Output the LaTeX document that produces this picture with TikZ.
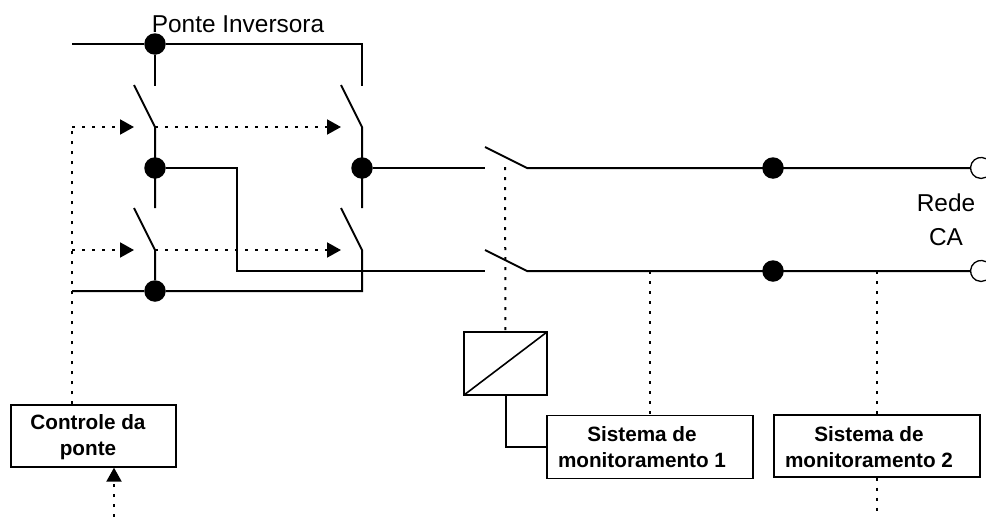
\documentclass[tikz,border=0pt]{standalone}
\usepackage{fontspec}
\setmainfont{Liberation Sans}
\usetikzlibrary{arrows.meta}
\tikzset{
  x=1pt,y=-1pt,
  wire/.style={line width=2pt,line join=miter},
  ctrl/.style={line width=2pt,dash pattern=on 3pt off 7pt},
  ctrlarrow/.style={ctrl,-{Triangle[length=14pt,width=15pt,sep=0pt]}},
  dot/.style={circle,fill=black,draw=none,minimum size=21.5pt,inner sep=0pt},
  box/.style={draw=black,line width=1.3pt,fill=white,inner sep=0pt,minimum height=0pt},
  boxtext/.style={font=\fontsize{20.7}{26.5}\selectfont\bfseries,align=center,inner sep=0pt},
  plain/.style={font=\fontsize{24.4}{34}\selectfont,align=center,inner sep=0pt},
}
\begin{document}
\begin{tikzpicture}
\useasboundingbox (0,0) rectangle (986,517);
% junction dots
\node[dot] (jt) at (155,44) {};
\node[dot] (jl) at (155,168) {};
\node[dot] (jr) at (362,168) {};
\node[dot] (jb) at (155,291) {};
\node[dot] (ja) at (773,168) {};
\node[dot] (jc) at (773,271) {};
% free ends and switch contacts
\coordinate (tl) at (72,44);
\coordinate (tr) at (362,44);
\coordinate (bl) at (72,291);
\coordinate (br) at (362,291);
\coordinate (a1) at (155,86);
\coordinate (a2) at (362,86);
\coordinate (a1b) at (134,85);
\coordinate (a2b) at (341,85);
\coordinate (a1p) at (155,127);
\coordinate (a2p) at (362,127);
\coordinate (b1) at (155,208);
\coordinate (b2) at (362,208);
\coordinate (b1b) at (134,208);
\coordinate (b2b) at (341,208);
\coordinate (b1p) at (155,250);
\coordinate (b2p) at (362,250);
\coordinate (s1i) at (485,168);
\coordinate (s2i) at (485,271);
\coordinate (s1b) at (485,147);
\coordinate (s2b) at (485,250);
\coordinate (s1o) at (527,168);
\coordinate (s2o) at (527,271);
\coordinate (e1) at (970.6,168);
\coordinate (e2) at (970.6,271);
\coordinate (c1) at (72,127);
\coordinate (c2) at (72,250);
\coordinate (ct) at (72,405);
\coordinate (ac1) at (134,127);
\coordinate (ac2) at (134,250);
\coordinate (ad1) at (341,127);
\coordinate (ad2) at (341,250);
\coordinate (swt) at (505,167);
\coordinate (m1) at (650,271);
\coordinate (m2) at (877,271);
\coordinate (m2o) at (877,517);
\coordinate (cin) at (114,517);
\coordinate (bend) at (237,271);
% boxes
\draw[box] (464,332) rectangle (547,395);
\coordinate (conv) at (505.5,332);
\coordinate (convb) at (505.5,395);
\coordinate (convsw) at (464,395);
\coordinate (convne) at (547,332);
\node[box,minimum width=165pt,minimum height=62pt] (ctl) at (93.5,436) {};
\node[box,minimum width=206pt,minimum height=63pt] (sm1) at (650,447) {};
\node[box,minimum width=206pt,minimum height=62pt] (sm2) at (877,446) {};
\node[boxtext] (ctltx) at (88,437) {Controle da\\ponte};
\node[boxtext] (sm1tx) at (642,447) {Sistema de\\monitoramento 1};
\node[boxtext] (sm2tx) at (869,447) {Sistema de\\monitoramento 2};
\node[plain,anchor=base] (title) at (238,32) {Ponte Inversora};
\node[plain] (rede) at (946,220) {Rede\\CA};
% bridge wires
\draw[wire] (tl) -- (jt) -- (tr) -- (a2);
\draw[wire] (jt) -- (a1);
\draw[wire] (a1b) -- (a1p) -- (b1);
\draw[wire] (a2b) -- (a2p) -- (b2);
\draw[wire] (b1b) -- (b1p) -- (jb);
\draw[wire] (b2b) -- (b2p) -- (br) -- (jb) -- (bl);
\draw[wire] (jl) -- (jl-|bend) -- (bend) -- (s2i);
\draw[wire] (jr) -- (s1i);
\draw[wire] (s1b) -- (s1o) -- (jr-|e1);
\draw[wire] (s2b) -- (s2o) -- (e2);
% terminals
\draw[line width=1.3pt] (986,158.7) arc[start angle=62,end angle=298,radius=10.5pt];
\draw[line width=1.3pt] (986,261.7) arc[start angle=62,end angle=298,radius=10.5pt];
% converter
\draw[wire,line width=1.6pt] (convsw) -- (convne);
\draw[wire] (convb) |- (sm1.west);
% control lines
\draw[ctrl] (ctl.north-|ct) -- (c1);
\draw[ctrlarrow] (c1) -- (ac1);
\draw[ctrlarrow] (a1p) -- (ad1);
\draw[ctrlarrow] (c2) -- (ac2);
\draw[ctrlarrow] (b1p) -- (ad2);
\draw[ctrlarrow] (cin) -- (cin|-ctl.south);
\draw[ctrl] (swt) -- (conv);
\draw[ctrl] (m1) -- (sm1.north-|m1);
\draw[ctrl] (m2) -- (sm2.north);
\draw[ctrl] (sm2.south) -- (m2o);
\end{tikzpicture}
\end{document}
